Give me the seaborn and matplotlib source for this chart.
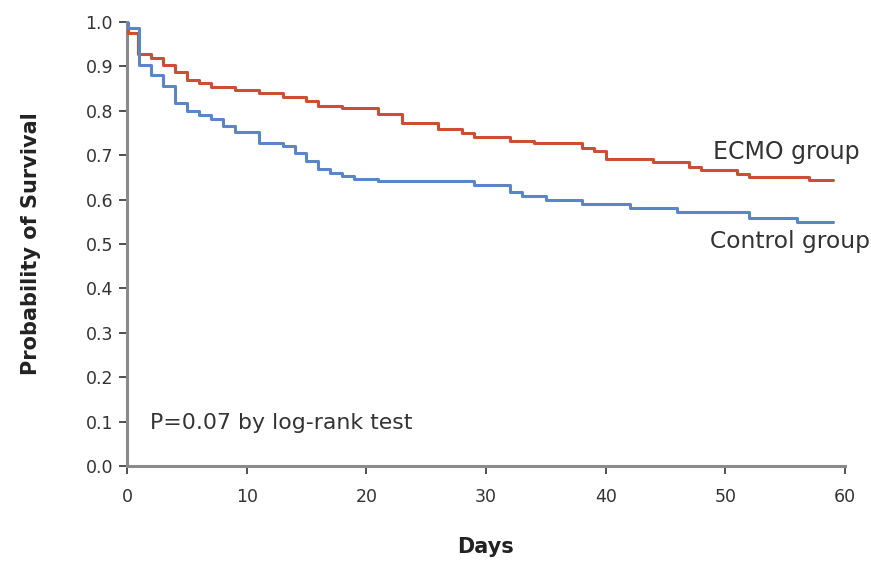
import pandas as pd
import numpy as np
import seaborn as sns
import matplotlib.pyplot as plt

# Kaplan-Meier step values (time in days, survival after that time)
ecmo_days = [0, 0.1, 0.95, 2, 3, 4, 5, 6, 7, 9, 11, 13, 15, 16, 18, 21, 23, 26, 28, 29,
             32, 34, 38, 39, 40, 44, 47, 48, 51, 52, 57, 59]
ecmo_surv = [1.0, 0.975, 0.928, 0.920, 0.903, 0.887, 0.869, 0.863, 0.854, 0.847, 0.839,
             0.830, 0.822, 0.811, 0.806, 0.793, 0.773, 0.758, 0.751, 0.742, 0.732, 0.727,
             0.717, 0.709, 0.691, 0.684, 0.674, 0.667, 0.658, 0.652, 0.644, 0.644]

control_days = [0, 0.1, 1, 2, 3, 4, 5, 6, 7, 8, 9, 11, 13, 14, 15, 16, 17, 18, 19, 21,
                29, 32, 33, 35, 38, 42, 46, 52, 56, 59]
control_surv = [1.0, 0.986, 0.903, 0.881, 0.856, 0.818, 0.800, 0.791, 0.782, 0.766, 0.752,
                0.727, 0.720, 0.705, 0.687, 0.669, 0.661, 0.654, 0.646, 0.642, 0.633, 0.616,
                0.608, 0.600, 0.591, 0.582, 0.573, 0.558, 0.550, 0.550]

x_ticks = [0, 10, 20, 30, 40, 50, 60]
y_ticks = [round(0.1 * i, 1) for i in range(11)]

df = pd.concat([
    pd.DataFrame({'day': ecmo_days, 'surv': ecmo_surv, 'group': 'ECMO group'}),
    pd.DataFrame({'day': control_days, 'surv': control_surv, 'group': 'Control group'}),
])

sns.set_style('white')
plt.rcParams['font.family'] = ['DejaVu Sans']

fig = plt.figure(figsize=(8.71, 5.61), dpi=100)
ax = fig.add_axes([0.1458, 0.1693, 0.8243, 0.7915])

palette = {'ECMO group': '#cc4e35', 'Control group': '#5a86c8'}
sns.lineplot(data=df, x='day', y='surv', hue='group', palette=palette,
             drawstyle='steps-post', estimator=None, linewidth=2.2,
             legend=False, ax=ax)

ax.set_xlim(0, 60)
ax.set_ylim(0, 1.0)
ax.set_xticks(x_ticks)
ax.set_yticks(y_ticks)
ax.set_yticklabels([f'{v:.1f}' for v in y_ticks])

for side in ['top', 'right']:
    ax.spines[side].set_visible(False)
for side in ['left', 'bottom']:
    ax.spines[side].set_color('#8a8a8a')
    ax.spines[side].set_linewidth(2.2)
    ax.spines[side].set_zorder(1)

ax.tick_params(axis='both', direction='out', length=6, width=1.2, color='#333333',
               labelsize=12.5, labelcolor='#333333', bottom=True, left=True)
ax.tick_params(axis='x', pad=10)
ax.tick_params(axis='y', pad=4)

ax.set_xlabel('Days', fontsize=15, fontweight='bold', color='#222222', labelpad=22)
ax.set_ylabel('Probability of Survival', fontsize=15, fontweight='bold',
              color='#222222', labelpad=32)

ax.text(49.0, 0.707, 'ECMO group', fontsize=17, color='#333333', va='center', ha='left')
ax.text(48.7, 0.505, 'Control group', fontsize=16.8, color='#333333', va='center', ha='left')
ax.text(1.9, 0.097, 'P=0.07 by log-rank test', fontsize=15.8, color='#333333',
        va='center', ha='left')

fig.savefig('out.png', dpi=100)
